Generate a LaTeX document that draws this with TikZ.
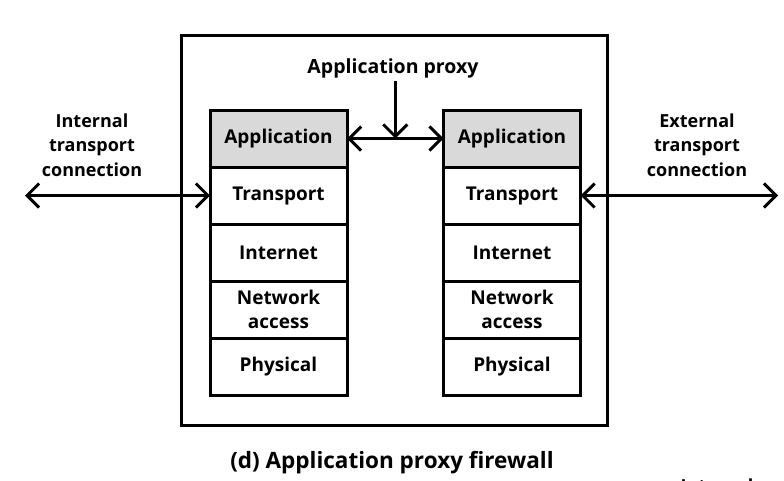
\documentclass[tikz,border=0pt]{standalone}
\usepackage{fontspec}
\setmainfont{Open Sans}
\usepackage{tikz}
\usetikzlibrary{arrows.meta,calc}

\tikzset{
  layer/.style={draw,line width=3pt,minimum width=137pt,minimum height=57pt,
    inner sep=0pt,outer sep=0pt,align=center},
  conn/.style={line width=3pt,{Straight Barb[length=12pt,width=24pt]}-{Straight Barb[length=12pt,width=24pt]}},
  lab/.style={align=center,font=\bfseries\fontsize{18}{24.5}\selectfont}
}

\begin{document}
\begin{tikzpicture}[x=1pt,y=-1pt,font=\bfseries\fontsize{19}{24.5}\selectfont]
      \useasboundingbox (0,0) rectangle (784,480);
      \def\rowh{57}
      % firewall box
      \draw[line width=3pt] (181,35) rectangle (607,425);
      % the two protocol stacks
      \foreach \s/\x in {l/278.5,r/512}{
        \node[layer,fill=black!15] (\s1) at (\x,{110+0.5*\rowh}) {Application};
        \foreach \i/\txt in {2/Transport,3/Internet,4/{Network\\access},5/Physical}{
          \node[layer] (\s\i) at (\x,{110+(\i-0.5)*\rowh}) {\txt};
        }
      }
      \node[lab,font=\bfseries\fontsize{19.5}{24}\selectfont] (proxy) at (393,68) {Application proxy};
      \coordinate (mid) at ($(l1.east)!0.5!(r1.west)$);
      \draw[conn] (l1.east) -- (r1.west);
      \draw[line width=3pt,-{Straight Barb[length=12pt,width=24pt]}] (proxy.south -| mid) -- (mid);
      % outside connections
      \node[lab] (intlab) at (92,145) {Internal\\transport\\connection};
      \node[lab] (extlab) at (697,145) {External\\transport\\connection};
      \coordinate (inL) at (25,195.5);
      \coordinate (outR) at (778,195.5);
      \draw[conn] (inL) -- (l2.west);
      \draw[conn] (r2.east) -- (outR);
      \node[font=\bfseries\fontsize{22.5}{26}\selectfont] (caption) at (392,463) {(d) Application proxy firewall};
      \node[lab,anchor=north] (cut) at (717,475) {Internal};
\end{tikzpicture}
\end{document}
